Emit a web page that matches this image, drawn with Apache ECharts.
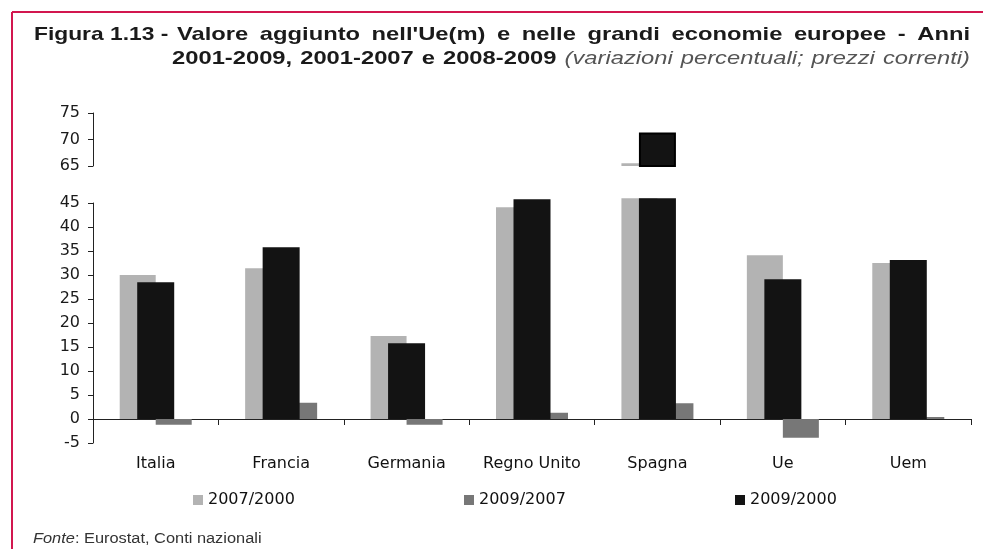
<!DOCTYPE html>
<html>
<head>
<meta charset="utf-8">
<script src="https://cdn.jsdelivr.net/npm/echarts@6/dist/echarts.min.js"></script>
<style>
html, body { margin: 0; padding: 0; background: #fff; }
#main { width: 983px; height: 549px; }
</style>
</head>
<body>
<div id="main"></div>
<script>
// dati (variazioni percentuali)
var paesi = ['Italia', 'Francia', 'Germania', 'Regno Unito', 'Spagna', 'Ue', 'Uem'];
var serie2007_2000 = [30.0, 31.4, 17.3, 44.1, 65.5, 34.1, 32.5];
var serie2009_2007 = [-1.2, 3.4, -1.2, 1.3, 3.3, -3.9, 0.4];
var serie2009_2000 = [28.5, 35.8, 15.8, 45.8, 71.3, 29.1, 33.1];
var nomiSerie = ['2007/2000', '2009/2007', '2009/2000'];

// asse spezzato: parte bassa -5..45, parte alta 65..75
var taglioBasso = 46;
var inizioAlto = 65;
function parteBassa(arr) { return arr.map(function (v) { return Math.min(v, taglioBasso); }); }
function parteAlta(arr) { return arr.map(function (v) { return v > inizioAlto ? v : '-'; }); }

var colori = ['#b3b3b3', '#777777', '#131313'];
var fontBase = '"Liberation Sans", Arial, sans-serif';
var fontAssi = '"DejaVu Sans", sans-serif';
var allarga = 1.25; // il testo originale e' piu' largo

// titolo giustificato
var ctx = document.createElement('canvas').getContext('2d');
function testo(t, x, y, font, colore, sx) {
  return {
    type: 'text', x: x, y: y, scaleX: sx || allarga,
    style: { text: t, x: 0, y: 0, font: font, fill: colore, verticalAlign: 'middle', textVerticalAlign: 'middle' }
  };
}
function giustifica(parole, x0, x1, y) {
  var larg = parole.map(function (p) { ctx.font = p[1]; return ctx.measureText(p[0]).width * allarga; });
  var tot = 0;
  larg.forEach(function (l) { tot += l; });
  var gap = (x1 - x0 - tot) / (parole.length - 1);
  var x = x0, out = [];
  parole.forEach(function (p, i) {
    out.push(testo(p[0], x, y, p[1], p[2]));
    x += larg[i] + gap;
  });
  return out;
}
var fB = 'bold 19px "Liberation Sans", Arial, sans-serif';
var fI = 'italic 19px "Liberation Sans", Arial, sans-serif';
var riga1 = "Valore aggiunto nell'Ue(m) e nelle grandi economie europee - Anni".split(' ')
  .map(function (w) { return [w, fB, '#1a1a1a']; });
var riga2 = '2001-2009, 2001-2007 e 2008-2009'.split(' ').map(function (w) { return [w, fB, '#1a1a1a']; })
  .concat('(variazioni percentuali; prezzi correnti)'.split(' ').map(function (w) { return [w, fI, '#555']; }));

var grafica = [
  { type: 'line', shape: { x1: 12, y1: 12, x2: 983, y2: 12 }, style: { stroke: '#d2174f', lineWidth: 2 } },
  { type: 'line', shape: { x1: 12, y1: 12, x2: 12, y2: 549 }, style: { stroke: '#d2174f', lineWidth: 2 } },
  testo('Figura 1.13 -', 34, 35, fB, '#1a1a1a', 1.2),
  {
    type: 'text', x: 33, y: 539, scaleX: 1.17,
    style: {
      text: '{i|Fonte}: Eurostat, Conti nazionali', x: 0, y: 0,
      font: '14px ' + fontBase, fill: '#333', verticalAlign: 'middle', textVerticalAlign: 'middle',
      rich: { i: { fontStyle: 'italic', fontSize: 14, fontFamily: fontBase, fill: '#333', color: '#333' } }
    }
  }
].concat(giustifica(riga1, 177, 970, 35)).concat(giustifica(riga2, 172, 970, 59));

var etichettaY = { color: '#1a1a1a', fontSize: 16, fontFamily: fontAssi, margin: 13 };
var lineaAsse = { show: true, lineStyle: { color: '#222', width: 1 } };

function legenda(i, x) {
  return {
    left: x, top: 487, itemWidth: 10, itemHeight: 10, icon: 'rect', itemGap: 0,
    data: [nomiSerie[i]],
    textStyle: { color: '#111', fontSize: 16, fontFamily: fontAssi }
  };
}

var option = {
  animation: false,
  backgroundColor: '#fff',
  color: colori,
  graphic: grafica,
  legend: [legenda(0, 188), legenda(1, 459), legenda(2, 730)],
  grid: [
    { left: 93, right: 12, top: 203, bottom: 106 },
    { left: 93, right: 12, top: 113, bottom: 383 }
  ],
  xAxis: [
    { type: 'category', gridIndex: 0, data: paesi, position: 'bottom',
      axisLine: { show: true, onZero: true, lineStyle: { color: '#222' } },
      axisTick: { show: true, length: 6, lineStyle: { color: '#222' } },
      axisLabel: { show: false } },
    { type: 'category', gridIndex: 0, data: paesi, position: 'bottom',
      axisLine: { show: false, onZero: false }, axisTick: { show: false },
      axisLabel: { show: true, interval: 0, color: '#111', fontSize: 16, fontFamily: fontAssi, margin: 13 } },
    { type: 'category', gridIndex: 1, data: paesi, show: false },
    { type: 'category', gridIndex: 1, data: paesi, show: false }
  ],
  yAxis: [
    { type: 'value', gridIndex: 0, min: -5, max: 45, interval: 5,
      axisLine: lineaAsse, axisTick: { show: true, length: 5, lineStyle: { color: '#222' } },
      splitLine: { show: false }, axisLabel: etichettaY },
    { type: 'value', gridIndex: 1, min: 65, max: 75, interval: 5,
      axisLine: lineaAsse, axisTick: { show: true, length: 5, lineStyle: { color: '#222' } },
      splitLine: { show: false }, axisLabel: etichettaY }
  ],
  series: [
    { name: nomiSerie[0], type: 'bar', xAxisIndex: 0, yAxisIndex: 0, barWidth: 36, barGap: '0%',
      clip: false, data: parteBassa(serie2007_2000), itemStyle: { color: colori[0] }, z: 2 },
    { name: nomiSerie[1], type: 'bar', xAxisIndex: 0, yAxisIndex: 0, barWidth: 36, barGap: '0%',
      clip: false, data: serie2009_2007, itemStyle: { color: colori[1] }, z: 2 },
    { name: nomiSerie[2], type: 'bar', xAxisIndex: 1, yAxisIndex: 0, barWidth: 37,
      clip: false, data: parteBassa(serie2009_2000), itemStyle: { color: colori[2] }, z: 3 },
    { name: nomiSerie[0], type: 'bar', xAxisIndex: 2, yAxisIndex: 1, barWidth: 36, barGap: '0%',
      data: parteAlta(serie2007_2000), itemStyle: { color: colori[0] }, z: 2 },
    { name: nomiSerie[1], type: 'bar', xAxisIndex: 2, yAxisIndex: 1, barWidth: 36, barGap: '0%',
      data: parteAlta(serie2009_2007), itemStyle: { color: colori[1] }, z: 2 },
    { name: nomiSerie[2], type: 'bar', xAxisIndex: 3, yAxisIndex: 1, barWidth: 37,
      data: parteAlta(serie2009_2000), itemStyle: { color: colori[2], borderColor: '#000', borderWidth: 2 }, z: 3 }
  ]
};

var chart = echarts.init(document.getElementById('main'));
chart.setOption(option);
</script>
</body>
</html>
